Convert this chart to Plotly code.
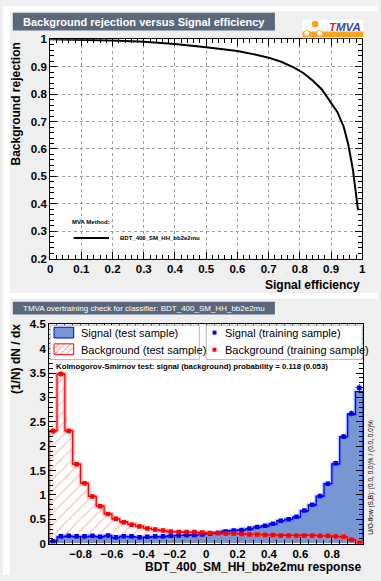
import plotly.graph_objects as go

# ---------------- data ----------------
roc_eff = [0.0, 0.1, 0.2, 0.3, 0.4, 0.5, 0.6, 0.65, 0.7, 0.74, 0.78, 0.81, 0.84,
           0.87, 0.9, 0.92, 0.94, 0.955, 0.97, 0.98, 0.986, 0.99]
roc_rej = [1.0, 0.999, 0.996, 0.991, 0.983, 0.971, 0.957, 0.946, 0.933, 0.918, 0.898,
           0.878, 0.851, 0.818, 0.770, 0.735, 0.683, 0.617, 0.525, 0.44, 0.38, 0.38]

bin_lo = -1.0
bin_w = 0.05
sig_test = [0.05, 0.14, 0.15, 0.14, 0.14, 0.15, 0.14, 0.16, 0.12, 0.15,
            0.14, 0.13, 0.13, 0.14, 0.14, 0.16, 0.17, 0.17, 0.18, 0.20,
            0.21, 0.23, 0.26, 0.27, 0.28, 0.30, 0.34, 0.36, 0.40, 0.47,
            0.50, 0.54, 0.67, 0.79, 0.97, 1.23, 1.63, 2.19, 2.65, 3.12]
bkg_test = [2.32, 3.48, 2.32, 1.63, 1.24, 0.97, 0.77, 0.61, 0.51, 0.45,
            0.40, 0.36, 0.32, 0.29, 0.27, 0.24, 0.24, 0.23, 0.23, 0.23,
            0.21, 0.21, 0.20, 0.21, 0.20, 0.19, 0.19, 0.18, 0.18, 0.18,
            0.17, 0.17, 0.18, 0.17, 0.16, 0.16, 0.15, 0.14, 0.08, 0.02]
sig_train = [0.05, 0.15, 0.16, 0.15, 0.15, 0.16, 0.14, 0.17, 0.13, 0.15,
             0.15, 0.13, 0.14, 0.15, 0.15, 0.16, 0.17, 0.18, 0.18, 0.19,
             0.21, 0.22, 0.25, 0.27, 0.28, 0.31, 0.34, 0.37, 0.41, 0.47,
             0.50, 0.55, 0.68, 0.80, 0.98, 1.23, 1.65, 2.20, 2.67, 3.20]
bkg_train = [2.31, 3.48, 2.31, 1.63, 1.24, 0.97, 0.77, 0.61, 0.51, 0.44,
             0.39, 0.35, 0.31, 0.29, 0.27, 0.25, 0.24, 0.24, 0.24, 0.23,
             0.22, 0.22, 0.21, 0.21, 0.20, 0.19, 0.19, 0.18, 0.18, 0.17,
             0.17, 0.17, 0.17, 0.17, 0.16, 0.16, 0.15, 0.14, 0.08, 0.02]
sig_train_err = [0.01, 0.02, 0.02, 0.02, 0.02, 0.02, 0.02, 0.02, 0.02, 0.02,
                 0.02, 0.02, 0.02, 0.02, 0.02, 0.02, 0.02, 0.02, 0.02, 0.02,
                 0.02, 0.02, 0.02, 0.02, 0.02, 0.02, 0.02, 0.02, 0.03, 0.03,
                 0.03, 0.03, 0.03, 0.03, 0.04, 0.04, 0.05, 0.05, 0.06, 0.07]
bkg_train_err = [0.05, 0.06, 0.05, 0.04, 0.04, 0.03, 0.03, 0.03, 0.03, 0.02,
                 0.02, 0.02, 0.02, 0.02, 0.02, 0.02, 0.02, 0.02, 0.02, 0.02,
                 0.02, 0.02, 0.02, 0.02, 0.02, 0.02, 0.02, 0.02, 0.02, 0.02,
                 0.02, 0.02, 0.02, 0.02, 0.02, 0.02, 0.02, 0.02, 0.01, 0.01]

nb = len(sig_test)
edges = [bin_lo + i * bin_w for i in range(nb + 1)]
centers = [bin_lo + (i + 0.5) * bin_w for i in range(nb)]

W, H = 381, 581
def px(x):
    return x / W
def py(y):
    return 1 - y / H

FONT = "Liberation Sans, Arial, sans-serif"
SIG_FILL = "#7797d4"
SIG_LINE = "#0000ee"
BKG_LINE = "#ff0000"

fig = go.Figure()

# ---------------- top: ROC ----------------
fig.add_trace(go.Scatter(x=roc_eff, y=roc_rej, mode="lines",
                         line=dict(color="black", width=2),
                         xaxis="x", yaxis="y", showlegend=False))

# ---------------- bottom: overtraining ----------------
def step(vals):
    xs = [edges[0]] + edges[:-1] + [edges[-1], edges[-1]]
    ys = [0] + list(vals) + [vals[-1], 0]
    return xs, ys

fig.add_trace(go.Bar(x=centers, y=sig_test, width=bin_w,
                     marker=dict(color=SIG_FILL, line=dict(width=0)),
                     xaxis="x2", yaxis="y2", showlegend=False))
fig.add_trace(go.Bar(x=centers, y=bkg_test, width=bin_w,
                     marker=dict(color="rgba(0,0,0,0)", line=dict(width=0),
                                 pattern=dict(shape="/", fgcolor="rgba(255,50,50,0.8)",
                                              bgcolor="rgba(0,0,0,0)", size=8,
                                              solidity=0.12, fillmode="overlay")),
                     xaxis="x2", yaxis="y2", showlegend=False))
sx, sy = step(sig_test)
fig.add_trace(go.Scatter(x=sx, y=sy, mode="lines", line=dict(shape="hv", color="rgba(80,110,255,0.35)", width=4),
                         xaxis="x2", yaxis="y2", showlegend=False))
fig.add_trace(go.Scatter(x=sx, y=sy, mode="lines", line=dict(shape="hv", color=SIG_LINE, width=1.3),
                         xaxis="x2", yaxis="y2", showlegend=False))
bx, by = step(bkg_test)
fig.add_trace(go.Scatter(x=bx, y=by, mode="lines", line=dict(shape="hv", color="rgba(255,90,90,0.35)", width=4),
                         xaxis="x2", yaxis="y2", showlegend=False))
fig.add_trace(go.Scatter(x=bx, y=by, mode="lines", line=dict(shape="hv", color=BKG_LINE, width=1.3),
                         xaxis="x2", yaxis="y2", showlegend=False))
fig.add_trace(go.Scatter(x=centers, y=sig_train, mode="markers",
                         marker=dict(color=SIG_LINE, size=4.5, symbol="square"),
                         error_x=dict(type="constant", value=bin_w / 2, width=0, thickness=1, color=SIG_LINE),
                         error_y=dict(type="data", array=sig_train_err, width=0, thickness=1, color=SIG_LINE),
                         xaxis="x2", yaxis="y2", showlegend=False))
fig.add_trace(go.Scatter(x=centers, y=bkg_train, mode="markers",
                         marker=dict(color=BKG_LINE, size=4.5, symbol="square"),
                         error_x=dict(type="constant", value=bin_w / 2, width=0, thickness=1, color=BKG_LINE),
                         error_y=dict(type="data", array=bkg_train_err, width=0, thickness=1, color=BKG_LINE),
                         xaxis="x2", yaxis="y2", showlegend=False))

# ---------------- decoration shapes ----------------
shapes = []
def rect(x0, y0, x1, y1, fill, line=None, lw=0, layer="below"):
    d = dict(type="rect", xref="paper", yref="paper",
             x0=px(x0), x1=px(x1), y0=py(y0), y1=py(y1),
             fillcolor=fill, layer=layer, line=dict(width=lw, color=line or fill))
    shapes.append(d)
def seg(x0, y0, x1, y1, color, w, layer="above"):
    shapes.append(dict(type="line", xref="paper", yref="paper",
                       x0=px(x0), x1=px(x1), y0=py(y0), y1=py(y1),
                       line=dict(color=color, width=w), layer=layer))

# white strips around the grey canvases
rect(0, 0, 7, H, "white")
rect(0, 0, W, 5, "white")
rect(0, 293, W, 299, "white")
# title boxes
rect(10, 7, 277, 25, "#5b687c", layer="above")
rect(10, 302, 277, 315, "#5b687c", layer="above")

# TMVA logo
rect(305, 14, 367, 33, "white", layer="above")
rect(305, 26, 367, 32, "#f8a51d", layer="above")
shapes.append(dict(type="circle", xref="paper", yref="paper", x0=px(314.5), x1=px(321.5),
                   y0=py(22), y1=py(15), fillcolor="#f8a51d", line=dict(width=0), layer="above"))
for cx in (309.5, 322.5):
    shapes.append(dict(type="circle", xref="paper", yref="paper", x0=px(cx - 3), x1=px(cx + 3),
                       y0=py(31), y1=py(25), fillcolor="white", line=dict(width=1, color="#f8a51d"), layer="above"))

# top legend line
seg(72, 237, 108, 237, "black", 2)

# bottom legend boxes
rect(48, 326, 200, 361, "white", line="#bbbbbb", lw=1, layer="above")
rect(207, 326, 366, 361, "white", line="#bbbbbb", lw=1, layer="above")
# signal swatch
rect(52, 328, 72, 339, SIG_FILL, line=SIG_LINE, lw=1, layer="above")
# background hatched swatch
rect(52, 345, 72, 356, "white", line=BKG_LINE, lw=1, layer="above")
x0s, x1s, y0s, y1s = 52, 72, 345, 356
hh = y1s - y0s
for k in range(-2, 5):
    xa = x0s + k * 6
    xb = xa + hh
    ya, yb = y1s, y0s
    if xa < x0s:
        ya = y1s - (x0s - xa)
        xa = x0s
    if xb > x1s:
        yb = y0s + (xb - x1s)
        xb = x1s
    if xb > xa:
        seg(xa, ya, xb, yb, "rgba(255,60,60,0.8)", 0.8)
# training markers
for yy, col in ((333.5, SIG_LINE), (351, BKG_LINE)):
    shapes.append(dict(type="rect", xref="paper", yref="paper", x0=px(213.5), x1=px(217.5),
                       y0=py(yy + 2), y1=py(yy - 2), fillcolor=col, line=dict(width=0), layer="above"))

# ---------------- annotations ----------------
ann = []
def text(x, y, s, size, color="black", bold=False, xa="left", ya="middle", angle=0, italic=False):
    ann.append(dict(xref="paper", yref="paper", x=px(x), y=py(y), text=s, showarrow=False,
                    xanchor=xa, yanchor=ya, textangle=angle,
                    font=dict(family=FONT, size=size, color=color,
                              weight="bold" if bold else "normal",
                              style="italic" if italic else "normal")))

text(143.5, 16, "Background rejection versus Signal efficiency", 11, "white", True, xa="center")
text(143.5, 308.5, "TMVA overtraining check for classifier: BDT_400_SM_HH_bb2e2mu", 8, "white", False, xa="center")
text(330, 21, "<span style='color:#e8202a'>T</span>MVA", 11.5, "#3848a8", True, italic=True)

text(13, 35, "Background rejection", 12, bold=True, xa="center", ya="top", angle=-90)
text(366, 285, "Signal efficiency", 12, bold=True, xa="right")
text(68, 221, "MVA Method:", 6, bold=True)
text(117, 237, "BDT_400_SM_HH_bb2e2mu", 6, bold=True)

text(14, 323, "(1/N) dN / dx", 12, bold=True, xa="center", ya="top", angle=-90)
text(367, 573, "BDT_400_SM_HH_bb2e2mu response", 12, bold=True, xa="right")
text(77, 333.5, "Signal (test sample)", 11)
text(77, 351, "Background (test sample)", 11)
text(224, 333.5, "Signal (training sample)", 11)
text(224, 351, "Background (training sample)", 11)
text(52, 368, "Kolmogorov-Smirnov test: signal (background) probability = 0.118 (0.053)", 7.8, bold=True)
text(374.5, 481, "U/O-flow (S,B): (0.0, 0.0)% / (0.0, 0.0)%", 6.5, xa="center", angle=-90)

# ---------------- axes ----------------
tickfont = dict(family=FONT, size=11.5, color="black", weight="bold")
common = dict(showline=True, linecolor="black", linewidth=1, mirror="allticks",
              ticks="inside", tickcolor="black", ticklen=7, tickwidth=1,
              tickfont=tickfont, zeroline=False, fixedrange=True)

fig.update_layout(
    width=W, height=H, autosize=False,
    margin=dict(l=0, r=0, t=0, b=0, pad=0),
    paper_bgcolor="#efefef", plot_bgcolor="white",
    barmode="overlay", bargap=0, showlegend=False,
    shapes=shapes, annotations=ann,
    xaxis=dict(domain=[px(48), px(366)], range=[0, 1], anchor="y",
               tick0=0, dtick=0.1, showgrid=True, gridcolor="#a0a0a0", griddash="dot", gridwidth=1,
               minor=dict(ticks="inside", ticklen=4, dtick=0.02, tickcolor="black", showgrid=False),
               **common),
    yaxis=dict(domain=[py(258), py(34)], range=[0.2, 1.0], anchor="x",
               tick0=0.2, dtick=0.1, showgrid=True, gridcolor="#a0a0a0", griddash="dot", gridwidth=1,
               minor=dict(ticks="inside", ticklen=4, dtick=0.02, tickcolor="black", showgrid=False),
               **common),
    xaxis2=dict(domain=[px(47), px(367)], range=[-1.0, 1.0], anchor="y2",
                tickvals=[-0.8, -0.6, -0.4, -0.2, 0, 0.2, 0.4, 0.6, 0.8],
                ticktext=["−0.8", "−0.6", "−0.4", "−0.2", "0", "0.2", "0.4", "0.6", "0.8"],
                showgrid=False,
                minor=dict(ticks="inside", ticklen=4, tick0=0, dtick=0.05, tickcolor="black", showgrid=False),
                **common),
    yaxis2=dict(domain=[py(549), py(325)], range=[0, 4.5], anchor="x2",
                tick0=0, dtick=0.5, showgrid=False,
                minor=dict(ticks="inside", ticklen=4, dtick=0.1, tickcolor="black", showgrid=False),
                **common),
)

fig.write_html("out.html")
